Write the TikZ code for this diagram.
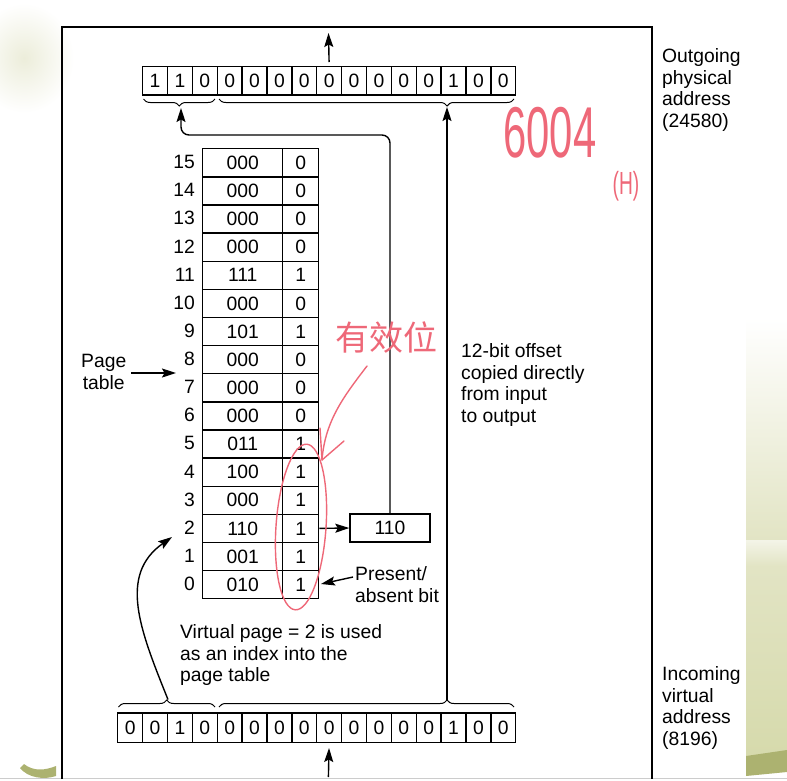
\documentclass[tikz,border=0pt]{standalone}
\usepackage{fontspec}
\setmainfont{Liberation Sans}
\newfontfamily\cjk{Noto Sans CJK SC}
\usetikzlibrary{arrows.meta,decorations.pathreplacing,calc}
\definecolor{handred}{RGB}{238,104,120}
\definecolor{bgbeige}{RGB}{236,237,218}
\definecolor{bgright}{RGB}{226,228,196}
\definecolor{bggreen}{RGB}{172,178,112}
\begin{document}
\begin{tikzpicture}[x=1pt,y=-1pt,
  font=\fontsize{19.3}{21.6}\selectfont,
  bitcell/.style={draw, line width=1.4pt, minimum width=24.875pt, inner sep=0pt, anchor=north west},
  pcell/.style={draw, line width=1.4pt, minimum height=28.125pt, inner sep=0pt, anchor=north west},
  conn/.style={line width=1.4pt, -{Stealth[length=14pt,width=9pt,inset=2.5pt]}},
  brc/.style={line width=1pt},
  lbl/.style={anchor=north west, inner sep=0pt, align=left},
  hand/.style={handred, line width=1.4pt, line cap=round, line join=round}
]
\useasboundingbox (0,0) rectangle (787,780);
% slide background decoration
\shade[inner color=bgbeige, outer color=white] (24,58) ellipse [x radius=50, y radius=55];
\shade[top color=white, bottom color=bgright] (746,318) rectangle (787,540);
\shade[top color=white!60!bgright, bottom color=bgright] (746,540) rectangle (787,566);
\shade[top color=bgright, bottom color={rgb,255:red,214;green,218;blue,172}] (746,566) rectangle (787,756);
\fill[bggreen] (746,756) -- (787,750) -- (787,772) -- (746,776) -- cycle;
\fill[bggreen] (24,764) .. controls (34,772) and (46,770) .. (56,766) -- (56,776) .. controls (44,780) and (28,778) .. (20,768) -- cycle;
\draw[gray!40, line width=0.8pt] (0,778.5) -- (787,778.5);
% frame
\draw[line width=2.2pt] (62,779) -- (62,27) -- (652,27) -- (652,779);
% outgoing register
\foreach \b [count=\i] in {1,1,0,0,0,0,0,0,0,0,0,0,1,0,0}
  \node[bitcell, minimum height=28.3pt] (o\i) at ({141.9+(\i-1)*24.875},66) {\b};
% incoming register
\foreach \b [count=\i] in {0,0,1,0,0,0,0,0,0,0,0,0,0,1,0,0}
  \node[bitcell, minimum height=29.3pt] (v\i) at ({117+(\i-1)*24.875},712.3) {\b};
% braces
\draw[brc, decorate, decoration={brace, mirror, amplitude=7pt}] (143.5,99) -- (215,99);
\draw[brc, decorate, decoration={brace, mirror, amplitude=7pt, aspect=0.773}] (219,99) -- (514,99);
\draw[brc, decorate, decoration={brace, amplitude=7pt}] (118.5,707) -- (215,707);
\draw[brc, decorate, decoration={brace, amplitude=7pt, aspect=0.773}] (219,707) -- (514,707);
% page table
\foreach \f/\p [count=\j from 0] in {010/1,001/1,110/1,000/1,100/1,011/1,000/0,000/0,000/0,101/1,000/0,111/1,000/0,000/0,000/0,000/0}{
  \pgfmathsetmacro{\yt}{148+(15-\j)*28.125}
  \node[pcell, minimum width=80pt] (pf\j) at (202,\yt) {\f};
  \node[pcell, minimum width=36pt] (pp\j) at (282,\yt) {\p};
  \node[anchor=east, inner sep=0pt] (pn\j) at (195,\yt+14.06) {\j};
}
\node[draw, line width=1.4pt, minimum width=80pt, minimum height=28pt, inner sep=0pt] (fbox) at (390,528) {110};
% labels
\node[lbl] (outl) at (662,48.3) {Outgoing\\physical\\address\\(24580)};
\node[lbl] (inl) at (662,666.3) {Incoming\\virtual\\address\\(8196)};
\node[lbl] (offl) at (461,343.4) {12-bit offset\\copied directly\\from input\\to output};
\node[lbl] (vpl) at (180,624.4) {Virtual page = 2 is used\\as an index into the\\page table};
\node[lbl] (presl) at (355,566.4) {Present/\\absent bit};
\node[lbl, align=center] (ptl) at (81,354.4) {Page\\table};
% coordinates
\coordinate (outtop) at (328.5,33);
\coordinate (inbot) at (328.4,777);
\coordinate (otop) at (447,107);
\coordinate (obot) at (447,699.5);
\coordinate (ptip) at (181,108);
\coordinate (vtip) at (168,699.5);
\coordinate (idx) at (172,537);
\coordinate (pts) at (131,373);
\coordinate (pte) at (176,373);
\coordinate (prs) at (353,577);
\coordinate (pre) at (321,584);
% connectors
\draw[conn, shorten <=4pt] (o8.north) -- (outtop);
\draw[conn, shorten >=5pt] (inbot) -- (v9.south);
\draw[conn] (obot) -- (otop);
\draw[conn, rounded corners=8pt] (fbox.north) |- ($(ptip)+(0,27)$) -- (ptip);
\draw[conn] (pp2.east) -- (fbox.west);
\draw[conn] (vtip) .. controls (140,630) and (118,575) .. (idx);
\draw[conn] (pts) -- (pte);
\draw[conn] (prs) -- (pre);
% handwritten annotations
\node[text=handred, inner sep=0pt, font=\fontsize{72}{72}\selectfont] (h6004) at (550,133) {\scalebox{0.58}[1]{6004}};
\node[text=handred, inner sep=0pt, font=\fontsize{32}{32}\selectfont] (hH) at (626,186) {\scalebox{0.6}[1]{(H)}};
\node[text=handred, inner sep=0pt, font=\cjk\fontsize{34}{34}\selectfont] (hyx) at (386,338) {有效位};
\coordinate (rs) at (367,366);
\coordinate (re) at (322,460);
\draw[hand] (rs) .. controls (345,395) and (325,420) .. (re);
\draw[hand] (320,428) -- (re) -- (344,441);
\draw[hand, rotate around={-4:(301,527)}] (301,527) ellipse [x radius=25, y radius=83];
\end{tikzpicture}
\end{document}
